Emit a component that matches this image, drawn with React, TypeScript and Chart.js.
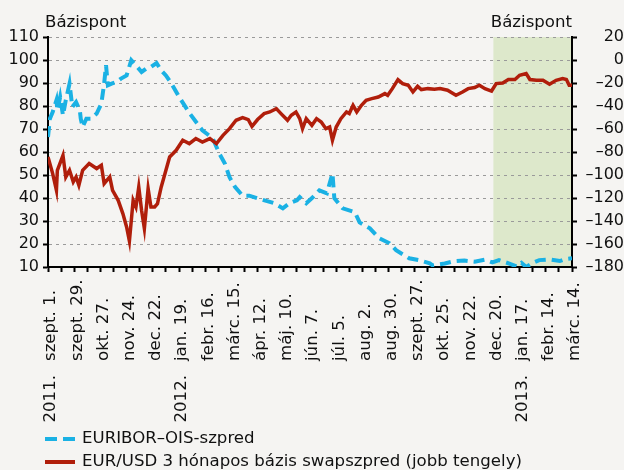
import React, { useEffect, useRef } from 'react';
import { Chart, registerables } from 'chart.js';

Chart.register(...registerables);

// ---- axis / label data ----
const xLabelDays = [0, 28, 56, 84, 112, 140, 168, 196, 224, 252, 280, 308, 336, 364, 392, 420, 448, 476, 504, 532, 560];
const xLabelMonths = [
  'szept. 1.', 'szept. 29.', 'okt. 27.', 'nov. 24.', 'dec. 22.', 'jan. 19.', 'febr. 16.', 'márc. 15.',
  'ápr. 12.', 'máj. 10.', 'jún. 7.', 'júl. 5.', 'aug. 2.', 'aug. 30.', 'szept. 27.', 'okt. 25.',
  'nov. 22.', 'dec. 20.', 'jan. 17.', 'febr. 14.', 'márc. 14.',
];
const xLabelYears = ['2011.', '', '', '', '', '2012.', '', '', '', '', '', '', '', '', '', '', '', '', '2013.', '', ''];
const xMinorTickStep = 14;
const xMin = 0;
const xMax = 560;
const shadeStartDay = 476;
const shadeEndDay = 560;

const leftMin = 10;
const leftMax = 110;
const leftStep = 10;
const rightMin = -180;
const rightMax = 20;
const rightStep = 20;

const leftTitle = 'Bázispont';
const rightTitle = 'Bázispont';
const euriborLabel = 'EURIBOR–OIS-szpred';
const swapLabel = 'EUR/USD 3 hónapos bázis swapszpred (jobb tengely)';

// ---- series (day offset from 2011-09-01) ----
const euriborDays = [
  0, 2, 5, 9, 10, 13, 16, 19, 23, 26, 30, 34, 35, 37, 41, 46, 52, 57, 60, 62, 64, 68, 73, 78, 84, 89, 94, 100,
  105, 110, 116, 121, 126, 132, 140, 151, 165, 176, 183, 189, 194, 200, 208, 215, 228, 242, 251, 258, 266, 269,
  276, 283, 290, 298, 304, 306, 315, 328, 333, 344, 354, 365, 372, 386, 397, 408, 411, 424, 434, 445, 456, 467,
  475, 482, 493, 501, 506, 511, 518, 525, 536, 547, 553, 560,
];
const euriborValues = [
  66.5, 74.5, 77.4, 82.5, 78.1, 83.9, 76, 82.5, 89.7, 79.6, 81.7, 78.1, 74.5, 70.9, 74.5, 74.5, 76.7, 81, 89.7, 97.7,
  89, 89.7, 90.4, 91.9, 93.3, 99.9, 97.7, 94.8, 96.3, 97, 98.7, 95.5, 93.3, 89.7, 84, 77, 69.4, 66, 59.4, 55, 49,
  44.7, 41, 41, 39.4, 37.7, 35.5, 37.7, 39, 40.4, 37.7, 40.3, 43.3, 42, 50.7, 39.9, 35.5, 33.8, 29.4, 26.8, 22.5,
  20.3, 17.3, 13.8, 12.9, 11.6, 10.7, 11.5, 12.5, 12.8, 12.3, 13.2, 12, 13, 11.5, 10.2, 11.8, 10, 11.8, 13, 13.3,
  12.6, 13.5, 13.8,
];

const swapDays = [
  0, 5, 9, 10, 16, 19, 23, 27, 30, 33, 37, 44, 52, 57, 60, 66, 69, 75, 80, 84, 87, 91, 94, 97, 100, 103, 107, 110,
  114, 117, 121, 124, 130, 137, 144, 151, 158, 165, 173, 180, 187, 194, 201, 208, 214, 218, 224, 231, 237, 244, 249,
  256, 260, 265, 269, 272, 276, 282, 287, 292, 297, 301, 304, 308, 313, 319, 322, 326, 330, 335, 340, 346, 353, 360,
  363, 368, 374, 379, 385, 390, 395, 399, 406, 413, 419, 427, 436, 443, 449, 456, 461, 467, 474, 479, 486, 492, 499,
  504, 511, 515, 522, 529, 536, 543, 550, 554, 557, 560,
];
const swapValues = [
  -84.3, -98.8, -113.3, -95.9, -82.9, -101.7, -95.9, -106, -101.7, -109, -95.9, -90.1, -94.4, -91.6, -107.5, -101.7,
  -113.3, -122, -133.6, -145.2, -157.5, -122, -127.8, -110.4, -130.7, -146.6, -111.8, -127.8, -127.8, -124.9, -110.4,
  -101.7, -84.3, -78.5, -69.8, -72.7, -68.3, -71.3, -68.3, -72.7, -65.5, -59.7, -52.4, -50.1, -51.8, -57.7, -51.8,
  -46.6, -45.2, -42.3, -46.6, -52.4, -48.1, -45.2, -51, -59.7, -51, -56.8, -51, -53.9, -59.7, -58.3, -69.8, -58.3,
  -51, -45.2, -46.6, -39.4, -45.2, -39.4, -35, -33.6, -32.2, -29.2, -30.7, -24.9, -17, -20.5, -22, -27.8, -22.9,
  -25.7, -24.9, -25.5, -24.9, -26.3, -30.7, -27.8, -24.9, -24, -22, -24.9, -27, -20.5, -20, -17, -17, -13.3, -11.8,
  -17, -17.7, -17.7, -21.1, -17.7, -16.2, -17, -22, -22,
];

// ---- styles ----
const FONT = '"DejaVu Sans", sans-serif';
const TICK_FONT_SIZE = 16;
const TEXT_FONT_SIZE = 16.6;
const TEXT_COLOR = '#111111';
const BG = '#f5f4f2';
const BLUE = '#1ab1e4';
const RED = '#b01e0b';
const SHADE = '#dde8cb';
const GRID = '#9a9a9a';

const minorTicks: number[] = [];
for (let d = xMin; d <= xMax; d += xMinorTickStep) minorTicks.push(d);

const fmtRight = (v: number) => (v < 0 ? '\u2013' + Math.abs(v) : String(v));

export default function App() {
  const canvasRef = useRef<HTMLCanvasElement | null>(null);

  useEffect(() => {
    const canvas = canvasRef.current;
    if (!canvas) return;

    const shadePlugin = {
      id: 'shade',
      beforeDraw(chart: any) {
        const { ctx, chartArea, scales } = chart;
        const x0 = scales.x.getPixelForValue(shadeStartDay);
        const x1 = scales.x.getPixelForValue(shadeEndDay);
        ctx.save();
        ctx.fillStyle = SHADE;
        ctx.fillRect(x0, chartArea.top, x1 - x0, chartArea.bottom - chartArea.top);
        ctx.restore();
      },
    };

    const textPlugin = {
      id: 'texts',
      afterDraw(chart: any) {
        const { ctx, chartArea, scales } = chart;
        ctx.save();
        ctx.fillStyle = TEXT_COLOR;
        ctx.font = `${TEXT_FONT_SIZE}px ${FONT}`;
        // titles
        ctx.textBaseline = 'alphabetic';
        ctx.textAlign = 'left';
        ctx.fillText(leftTitle, 45, 27);
        ctx.textAlign = 'right';
        ctx.fillText(rightTitle, chartArea.right, 27);

        // x labels (rotated, bottom-aligned months, years below)
        const monthStartY = 361;
        const yearGap = 14;
        xLabelDays.forEach((d, i) => {
          const px = scales.x.getPixelForValue(d) + 3;
          ctx.save();
          ctx.translate(px, monthStartY);
          ctx.rotate(-Math.PI / 2);
          ctx.textBaseline = 'middle';
          ctx.textAlign = 'left';
          ctx.fillText(xLabelMonths[i], 0, 0);
          if (xLabelYears[i]) {
            ctx.textAlign = 'right';
            ctx.fillText(xLabelYears[i], -yearGap, 0);
          }
          ctx.restore();
        });

        // legend
        const lx0 = 45;
        const lx1 = 75;
        const tx = 82;
        const ly1 = 439;
        const ly2 = 462;
        ctx.lineWidth = 4;
        ctx.strokeStyle = BLUE;
        ctx.setLineDash([12, 6]);
        ctx.beginPath();
        ctx.moveTo(lx0, ly1);
        ctx.lineTo(lx1, ly1);
        ctx.stroke();
        ctx.setLineDash([]);
        ctx.strokeStyle = RED;
        ctx.beginPath();
        ctx.moveTo(lx0, ly2);
        ctx.lineTo(lx1, ly2);
        ctx.stroke();
        ctx.textAlign = 'left';
        ctx.textBaseline = 'middle';
        ctx.fillText(euriborLabel, tx, ly1);
        ctx.fillText(swapLabel, tx, ly2);
        ctx.restore();
      },
    };

    const chart = new Chart(canvas, {
      type: 'line',
      data: {
        datasets: [
          {
            label: euriborLabel,
            data: euriborDays.map((d, i) => ({ x: d, y: euriborValues[i] })),
            borderColor: BLUE,
            borderWidth: 4,
            borderDash: [11, 6],
            pointRadius: 0,
            tension: 0,
            yAxisID: 'y',
            order: 1,
          },
          {
            label: swapLabel,
            data: swapDays.map((d, i) => ({ x: d, y: swapValues[i] })),
            borderColor: RED,
            borderWidth: 3.5,
            pointRadius: 0,
            tension: 0,
            yAxisID: 'y1',
            order: 0,
          },
        ],
      },
      options: {
        responsive: false,
        animation: false,
        devicePixelRatio: 1,
        layout: { padding: { top: 37, left: 0, right: 0, bottom: 0 } },
        plugins: { legend: { display: false }, tooltip: { enabled: false }, title: { display: false } },
        scales: {
          x: {
            type: 'linear',
            position: 'bottom',
            min: xMin,
            max: xMax,
            afterBuildTicks: (s: any) => {
              s.ticks = minorTicks.map((v) => ({ value: v }));
            },
            afterFit: (s: any) => {
              s.height = 203;
            },
            ticks: { display: false },
            grid: { drawOnChartArea: false, drawTicks: true, tickLength: 5, tickWidth: 2, tickColor: '#000' },
            border: { display: true, color: '#000', width: 2 },
          },
          y: {
            type: 'linear',
            position: 'left',
            min: leftMin,
            max: leftMax,
            ticks: { stepSize: leftStep, color: TEXT_COLOR, font: { family: FONT, size: TICK_FONT_SIZE }, padding: 4 },
            grid: {
              color: (c: any) => (c.tick && c.tick.value === leftMin ? 'rgba(0,0,0,0)' : GRID),
              lineWidth: 1,
              drawTicks: true,
              tickLength: 5,
              tickWidth: 2,
              tickColor: '#000',
            },
            border: { display: true, color: '#000', width: 2, dash: [3, 4] },
            afterFit: (s: any) => {
              s.width = 48;
            },
          },
          y1: {
            type: 'linear',
            position: 'right',
            min: rightMin,
            max: rightMax,
            ticks: {
              stepSize: rightStep,
              color: TEXT_COLOR,
              font: { family: FONT, size: TICK_FONT_SIZE },
              padding: 4,
              crossAlign: 'far',
              callback: (v: any) => fmtRight(Number(v)),
            },
            grid: { drawOnChartArea: false, drawTicks: true, tickLength: 5, tickWidth: 2, tickColor: '#000' },
            border: { display: true, color: '#000', width: 2 },
            afterFit: (s: any) => {
              s.width = 52;
            },
          },
        },
      },
      plugins: [shadePlugin, textPlugin],
    } as any);

    return () => chart.destroy();
  }, []);

  return (
    <div style={{ position: 'fixed', left: 0, top: 0, width: 624, height: 470, background: BG }}>
      <canvas ref={canvasRef} width={624} height={470} style={{ display: 'block' }} />
    </div>
  );
}
